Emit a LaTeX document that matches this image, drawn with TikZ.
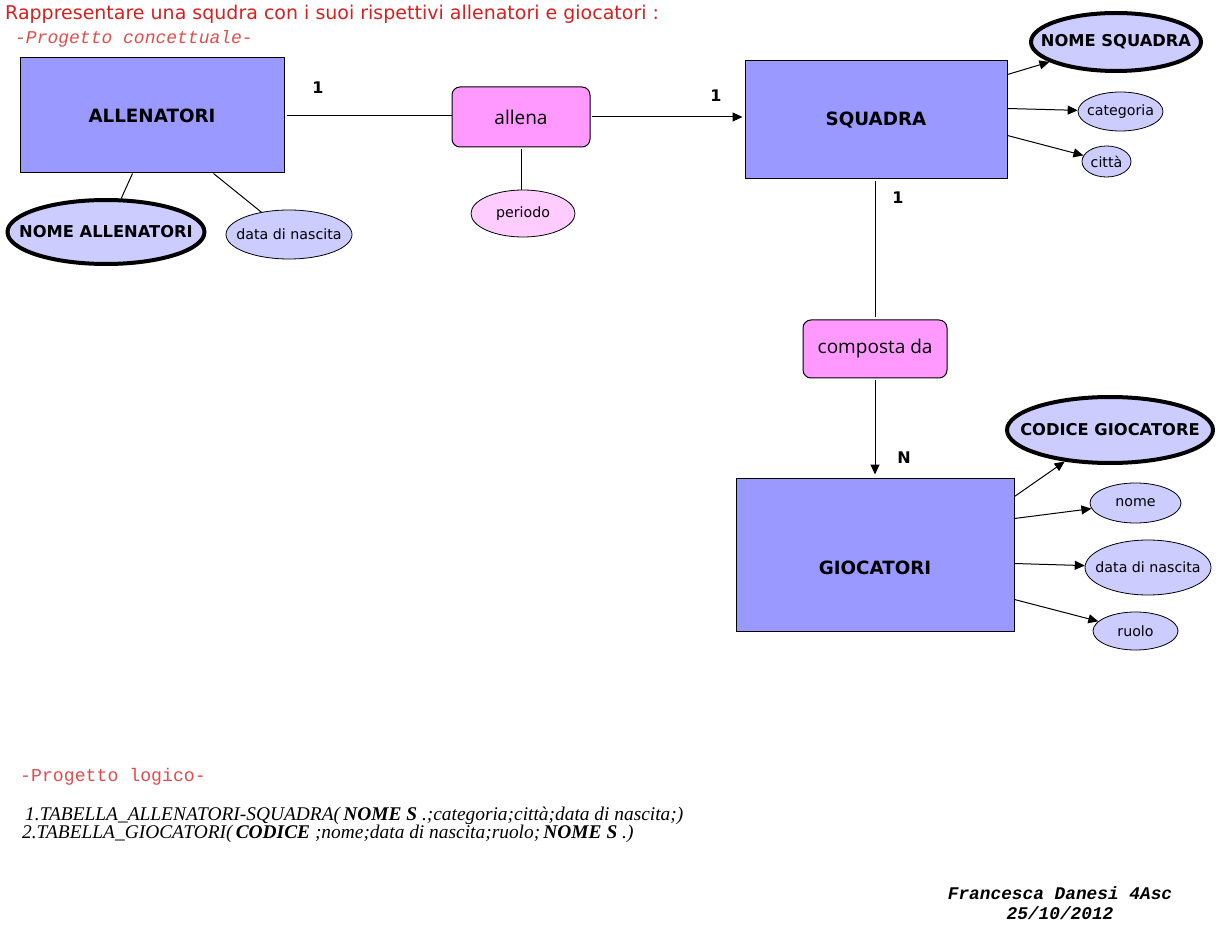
\documentclass[tikz,border=0pt]{standalone}
\usepackage{fontspec}
\setmainfont{DejaVu Sans}
\newfontfamily\monofont{Liberation Mono}
\newfontfamily\seriffont{Liberation Serif}
\newfontfamily\relfont{Open Sans}
\usetikzlibrary{arrows.meta,shapes.geometric}
\definecolor{entfill}{HTML}{9999FF}
\definecolor{relfill}{HTML}{FF99FF}
\definecolor{attfill}{HTML}{CCCCFF}
\definecolor{relattfill}{HTML}{FFCCFF}
\definecolor{titlered}{RGB}{220,30,30}
\definecolor{subred}{RGB}{230,75,75}
\tikzset{
  entity/.style={draw=black, line width=1pt, fill=entfill, inner sep=0pt, font=\fontsize{18.3}{20}\selectfont\bfseries},
  relation/.style={draw=black, line width=1pt, fill=relfill, rounded corners=8pt, inner sep=0pt, font=\relfont\fontsize{19}{21}\selectfont},
  attr/.style={ellipse, draw=black, line width=0.8pt, fill=attfill, inner sep=0pt, label={[font=\fontsize{14.2}{16}\selectfont]center:#1}},
  keyattr/.style={ellipse, draw=black, line width=4pt, fill=attfill, inner sep=0pt, label={[font=\fontsize{16.3}{18}\selectfont\bfseries]center:#1}},
  relattr/.style={attr=#1, fill=relattfill},
  conn/.style={line width=1pt},
  arr/.style={line width=1pt, -{Triangle[length=10pt,width=9pt]}},
  card/.style={font=\fontsize{16}{18}\selectfont\bfseries, inner sep=0pt},
}
\begin{document}
\begin{tikzpicture}[x=1pt,y=-1pt]
\useasboundingbox (0,0) rectangle (1216,941);
\fill[white] (0,0) rectangle (1216,941);

\node[anchor=west, text=titlered, font=\fontsize{19}{21}\selectfont, inner sep=0pt] (title) at (5,14) {Rappresentare una squdra con i suoi rispettivi allenatori e giocatori :};
\node[anchor=west, text=subred, font=\monofont\itshape\fontsize{18}{20}\selectfont, inner sep=0pt] (pc) at (15,39) {-Progetto concettuale-};

% entities
\node[entity, minimum width=264pt, minimum height=115pt] (all) at (152,115.5) {ALLENATORI};
\node[entity, minimum width=262pt, minimum height=118pt] (sq) at (876,120) {SQUADRA};
\node[draw=black, line width=1pt, fill=entfill, inner sep=0pt, minimum width=278pt, minimum height=153pt, label={[font=\fontsize{18.3}{20}\selectfont\bfseries, yshift=-13.5pt]center:GIOCATORI}] (gio) at (875,554.5) {};

% relations
\node[relation, minimum width=138pt, minimum height=60pt] (al) at (521,117) {allena};
\node[relation, minimum width=144pt, minimum height=58pt, label={[anchor=west, xshift=15pt, yshift=0pt, inner sep=0pt, font=\relfont\fontsize{19}{21}\selectfont]west:composta da}] (cd) at (875,349) {};

% attributes
\node[keyattr=NOME SQUADRA, minimum width=170pt, minimum height=58pt] (nsq) at (1116,42) {};
\node[attr=categoria, minimum width=85pt, minimum height=39pt] (cat) at (1120.5,111.5) {};
\node[attr=città, minimum width=49pt, minimum height=31pt] (cit) at (1106.5,161.5) {};
\node[keyattr=NOME ALLENATORI, minimum width=197pt, minimum height=64pt] (nall) at (106,232) {};
\node[attr=data di nascita, minimum width=126pt, minimum height=49pt] (dn1) at (289,234.5) {};
\node[relattr=periodo, minimum width=104pt, minimum height=47pt] (per) at (523,213.5) {};
\node[keyattr=CODICE GIOCATORE, minimum width=206pt, minimum height=66pt] (cod) at (1110,430) {};
\node[attr=nome, minimum width=91pt, minimum height=40pt] (nome) at (1135.5,503) {};
\node[attr=data di nascita, minimum width=126pt, minimum height=55pt] (dn2) at (1148,567.5) {};
\node[attr=ruolo, minimum width=85pt, minimum height=38pt] (ruolo) at (1135.5,631) {};

% connectors
\draw[conn] ([xshift=2pt]all.east) -- (all.east -| al.west);
\draw[arr] ([xshift=1pt]al.east) -- ([xshift=-2pt]al.east -| sq.west);
\draw[conn] ([yshift=-2pt]al.south) -- (al.south |- per.north);
\draw[conn] ([xshift=113pt]all.south west) -- (nall);
\draw[conn] ([xshift=194pt]all.south west) -- (dn1);
\draw[arr] ([yshift=-14pt]sq.north east) -- (nsq);
\draw[arr] ([yshift=-48pt]sq.north east) -- (cat);
\draw[arr] ([yshift=-75pt]sq.north east) -- (cit);
\draw[conn] ([yshift=-2pt]cd.north |- sq.south) -- ([yshift=2pt]cd.north);
\draw[arr] ([yshift=-2pt]cd.south) -- ([yshift=3pt]gio.north);
\draw[arr] ([yshift=-19pt]gio.north east) -- (cod);
\draw[arr] ([yshift=-41pt]gio.north east) -- (nome);
\draw[arr] ([yshift=-86pt]gio.north east) -- (dn2);
\draw[arr] ([yshift=-122pt]gio.north east) -- (ruolo);

% cardinalities
\node[card] (c1) at (318,88) {1};
\node[card] (c2) at (716,96) {1};
\node[card] (c3) at (898,198) {1};
\node[card] (c4) at (904,458) {N};

% logical design
\node[anchor=west, text=subred, font=\monofont\fontsize{18.2}{20}\selectfont, inner sep=0pt] (pl) at (20,777) {-Progetto logico-};
\node[anchor=west, font=\seriffont\itshape\fontsize{19.4}{21}\selectfont, inner sep=0pt] (l1) at (25,816) {1.TABELLA\_ALLENATORI-SQUADRA(\,\textbf{NOME S} .;categoria;città;data di nascita;)};
\node[anchor=west, font=\seriffont\itshape\fontsize{19.4}{21}\selectfont, inner sep=0pt] (l2) at (22,834) {2.TABELLA\_GIOCATORI(\,\textbf{CODICE} ;nome;data di nascita;ruolo;\,\textbf{NOME S} .)};

% author
\node[align=center, font=\monofont\bfseries\itshape\fontsize{17.8}{20}\selectfont, inner sep=0pt] (auth) at (1060,903) {Francesca Danesi 4Asc\\25/10/2012};
\end{tikzpicture}
\end{document}
